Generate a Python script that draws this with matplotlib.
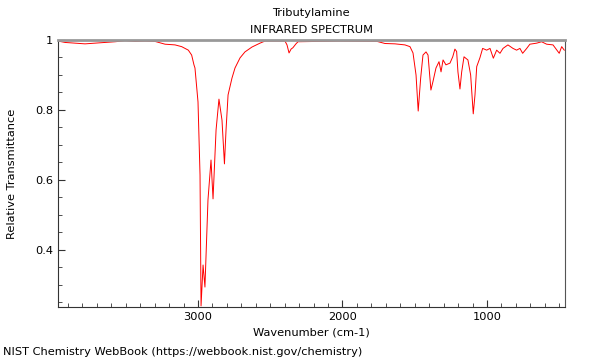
import numpy as np
import matplotlib
matplotlib.use("Agg")
import matplotlib.pyplot as plt
from matplotlib.ticker import MultipleLocator

compound = "Tributylamine"
subtitle = "INFRARED SPECTRUM"

# wavenumber (cm-1) / relative transmittance
wavenumber = [3969, 3920, 3851, 3782, 3713, 3644, 3574, 3505, 3436, 3367,
              3298, 3228, 3159, 3113, 3067, 3044, 3028, 3021, 3000, 2986,
              2979, 2965, 2952, 2931, 2910, 2896, 2875, 2855, 2834, 2817,
              2806, 2792, 2765, 2744, 2709, 2675, 2626, 2571, 2536, 2398,
              2384, 2370, 2356, 2343, 2322, 2308, 2017, 1761, 1706, 1637,
              1568, 1533, 1512, 1491, 1476, 1459, 1443, 1422, 1408, 1388,
              1374, 1353, 1332, 1318, 1304, 1284, 1256, 1237, 1222, 1210,
              1201, 1187, 1175, 1159, 1132, 1113, 1095, 1083, 1071, 1049,
              1030, 1002, 979, 956, 933, 910, 889, 855, 820, 795,
              772, 753, 725, 703, 656, 622, 587, 543, 500, 483, 465]
transmittance = [0.997, 0.993, 0.991, 0.989, 0.991, 0.993, 0.995, 0.998, 0.996, 0.997,
                 0.996, 0.988, 0.986, 0.981, 0.971, 0.957, 0.929, 0.920, 0.823, 0.614,
                 0.240, 0.357, 0.294, 0.543, 0.657, 0.546, 0.743, 0.831, 0.771, 0.646,
                 0.743, 0.843, 0.891, 0.920, 0.949, 0.966, 0.980, 0.991, 0.997, 0.997,
                 0.986, 0.963, 0.974, 0.978, 0.989, 0.995, 0.997, 0.996, 0.990, 0.989,
                 0.986, 0.981, 0.963, 0.900, 0.797, 0.891, 0.957, 0.966, 0.957, 0.857,
                 0.881, 0.920, 0.938, 0.909, 0.943, 0.929, 0.934, 0.952, 0.974, 0.967,
                 0.909, 0.860, 0.909, 0.952, 0.943, 0.900, 0.789, 0.843, 0.924, 0.949,
                 0.976, 0.971, 0.976, 0.948, 0.971, 0.962, 0.976, 0.986, 0.976, 0.971,
                 0.976, 0.962, 0.976, 0.988, 0.991, 0.995, 0.988, 0.986, 0.962, 0.981, 0.971]

fs = 8.2
fig = plt.figure(figsize=(6, 3.6), dpi=100)
ax = fig.add_axes([58/600, 1-307/360, 507/600, 267/360])
ax.plot(wavenumber, transmittance, color="#ff0000", lw=0.7)

ax.set_xlim(3969, 460)
ax.set_ylim(0.237, 1.0)
ax.xaxis.set_major_locator(MultipleLocator(1000))
ax.xaxis.set_minor_locator(MultipleLocator(100))
ax.yaxis.set_major_locator(MultipleLocator(0.2))
ax.yaxis.set_minor_locator(MultipleLocator(0.05))
ax.yaxis.set_major_formatter(plt.FuncFormatter(lambda v, p: "%g" % round(v, 2)))
ax.tick_params(which="both", direction="in", labelsize=fs, color="#333333")
ax.tick_params(which="major", length=5)
ax.tick_params(which="minor", length=3)

ax.spines["top"].set_color("#999999")
ax.spines["top"].set_linewidth(2)
ax.spines["right"].set_color("#555555")
ax.spines["left"].set_color("#333333")
ax.spines["bottom"].set_color("#333333")

ax.set_xlabel("Wavenumber (cm-1)", fontsize=fs, labelpad=4)
ax.set_ylabel("Relative Transmittance", fontsize=fs, labelpad=13)
fig.text(311/600, 1-13/360, compound, ha="center", va="center", fontsize=fs)
fig.text(311/600, 1-30/360, subtitle, ha="center", va="center", fontsize=fs)
fig.text(3/600, 1-352/360, "NIST Chemistry WebBook (https://webbook.nist.gov/chemistry)",
         ha="left", va="center", fontsize=fs)

fig.savefig("out.png", dpi=100)
